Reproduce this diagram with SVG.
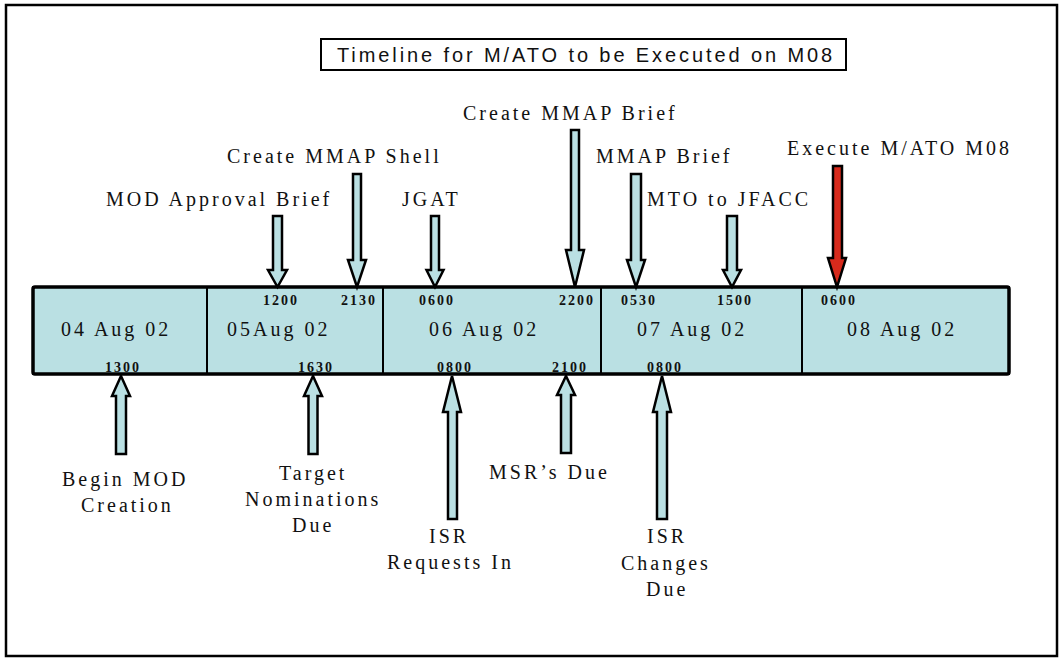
<svg xmlns="http://www.w3.org/2000/svg" width="1061" height="658" viewBox="0 0 1061 658">
<style>
.lbl{font-family:"Liberation Serif","Times New Roman",serif;font-size:20px;letter-spacing:3px;fill:#111}
.tm{font-family:"Liberation Serif","Times New Roman",serif;font-size:14px;font-weight:bold;letter-spacing:2px;fill:#111}
.ttl{font-family:"Liberation Sans",Arial,sans-serif;font-size:20px;letter-spacing:2.9px;fill:#111}
.cell{fill:#BAE0E3;stroke:#000;stroke-width:2}
.arr{fill:#BAE0E3;stroke:#000;stroke-width:2.5;stroke-linejoin:miter}
.red{fill:#D62A1C;stroke:#000;stroke-width:2.5;stroke-linejoin:miter}
</style>
<rect x="0" y="0" width="1061" height="658" fill="#fff"/>
<rect x="6" y="5" width="1051" height="651" fill="none" stroke="#000" stroke-width="2.5"/>
<g id="title">
<rect x="321" y="39" width="525" height="31" fill="#fff" stroke="#000" stroke-width="2"/>
<text class="ttl" x="337" y="62">Timeline for M/ATO to be Executed on M08</text>
</g>
<g id="day04">
<rect class="cell" x="33" y="287" width="174" height="87"/>
<text class="lbl" x="61" y="336">04 Aug 02</text>
<text class="tm" x="105" y="372">1300</text>
</g>
<g id="day05">
<rect class="cell" x="207" y="287" width="176" height="87"/>
<text class="lbl" x="227" y="336">05Aug 02</text>
<text class="tm" x="263" y="305">1200</text>
<text class="tm" x="341" y="305">2130</text>
<text class="tm" x="298" y="372">1630</text>
</g>
<g id="day06">
<rect class="cell" x="383" y="287" width="218" height="87"/>
<text class="lbl" x="429" y="336">06 Aug 02</text>
<text class="tm" x="419" y="305">0600</text>
<text class="tm" x="559" y="305">2200</text>
<text class="tm" x="437" y="372">0800</text>
<text class="tm" x="552" y="372">2100</text>
</g>
<g id="day07">
<rect class="cell" x="601" y="287" width="201" height="87"/>
<text class="lbl" x="637" y="336">07 Aug 02</text>
<text class="tm" x="621" y="305">0530</text>
<text class="tm" x="717" y="305">1500</text>
<text class="tm" x="647" y="372">0800</text>
</g>
<g id="day08">
<rect class="cell" x="802" y="287" width="207" height="87"/>
<text class="lbl" x="847" y="336">08 Aug 02</text>
<text class="tm" x="821" y="305">0600</text>
</g>
<rect x="33" y="287" width="976" height="87" rx="2" fill="none" stroke="#000" stroke-width="3.5"/>
<g id="connectors">
<polygon class="arr" points="273,216 282,216 282,270 287,270 277.5,287 268,270 273,270"/>
<polygon class="arr" points="353,174 361,174 361,260 366,260 357,287 348,260 353,260"/>
<polygon class="arr" points="431,216 439,216 439,270 443.5,270 435,287 426.5,270 431,270"/>
<polygon class="arr" points="571,130 579,130 579,250 584,250 575,287 566,250 571,250"/>
<polygon class="arr" points="631,174 641,174 641,260 645,260 636,287 627,260 631,260"/>
<polygon class="arr" points="727,216 737,216 737,270 741,270 732,287 723,270 727,270"/>
<polygon class="red" points="833,166 842,166 842,258 846,258 837,287 828,258 833,258"/>
<polygon class="arr" points="121,376 130,396 126,396 126,454 116,454 116,396 112,396"/>
<polygon class="arr" points="313,376 322,396 317.5,396 317.5,454 308.5,454 308.5,396 304,396"/>
<polygon class="arr" points="452,376 461,412 457,412 457,519 448,519 448,412 443,412"/>
<polygon class="arr" points="566,376 575,395 571,395 571,453 561,453 561,395 557,395"/>
<polygon class="arr" points="662,376 671,412 667,412 667,519 657,519 657,412 653,412"/>
</g>
<g id="lbl-top">
<text class="lbl" x="463" y="120">Create MMAP Brief</text>
<text class="lbl" x="787" y="155">Execute M/ATO M08</text>
<text class="lbl" x="227" y="163">Create MMAP Shell</text>
<text class="lbl" x="596" y="163">MMAP Brief</text>
<text class="lbl" x="106" y="206">MOD Approval Brief</text>
<text class="lbl" x="402" y="206">JGAT</text>
<text class="lbl" x="647" y="206">MTO to JFACC</text>
</g>
<g id="lbl-bottom">
<text class="lbl" x="62" y="486">Begin MOD</text>
<text class="lbl" x="81" y="512">Creation</text>
<text class="lbl" x="279" y="480">Target</text>
<text class="lbl" x="245" y="506">Nominations</text>
<text class="lbl" x="292" y="532">Due</text>
<text class="lbl" x="489" y="479">MSR’s Due</text>
<text class="lbl" x="429" y="543">ISR</text>
<text class="lbl" x="387" y="569">Requests In</text>
<text class="lbl" x="647" y="543">ISR</text>
<text class="lbl" x="621" y="570">Changes</text>
<text class="lbl" x="646" y="596">Due</text>
</g>
</svg>
